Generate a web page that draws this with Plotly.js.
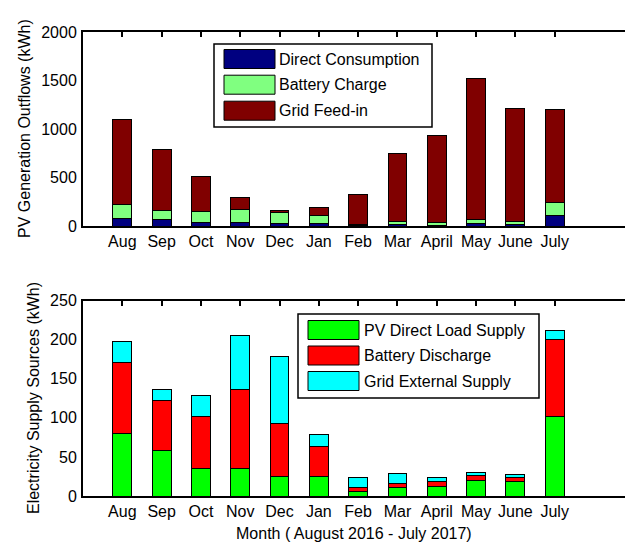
<!DOCTYPE html>
<html><head><meta charset="utf-8">
<script src="https://cdn.plot.ly/plotly-3.0.1.min.js"></script>
<style>html,body{margin:0;padding:0;background:#fff;overflow:hidden}#chart{width:625px;height:545px}</style>
</head><body><div id="chart"></div>
<script>
// ---- data ----
const months = ['Aug','Sep','Oct','Nov','Dec','Jan','Feb','Mar','April','May','June','July'];
const topNames = ['Direct Consumption','Battery Charge','Grid Feed-in'];
const directConsumption = [79, 65, 38, 38, 24, 24, 8, 12, 10, 24, 15, 113];
const batteryCharge     = [141, 93, 109, 137, 113, 82, 7, 36, 28, 41, 33, 134];
const gridFeedIn        = [880, 632, 368, 114, 28, 87, 305, 702, 892, 1455, 1168, 956];
const bottomNames = ['PV Direct Load Supply','Battery Discharge','Grid External Supply'];
const pvDirectLoad      = [80, 58, 35, 35, 25, 25, 6, 11, 12.4, 19.6, 18, 101.5];
const batteryDischarge  = [91, 64.5, 67, 101.6, 68, 38.6, 5, 5.6, 5.6, 6.8, 5.5, 99];
const gridExternal      = [26.5, 14, 27, 69.4, 85, 15.4, 12.5, 12.4, 5.5, 3.9, 3.4, 12];
const topTicks = [0, 500, 1000, 1500, 2000];
const bottomTicks = [0, 50, 100, 150, 200, 250];

// ---- styling ----
const W = 625, H = 545, L = 83;
const FONT = {family: '"Liberation Sans", Arial, sans-serif', size: 16, color: '#000'};
const topColors = ['#000080', '#80FF80', '#800000'];
const bottomColors = ['#00FF00', '#FF0000', '#00FFFF'];
const px = x => (x - L) / (W - L);
const py = y => 1 - y / H;

function bars(vals, names, colors, xa, ya) {
  return vals.map((v, i) => ({
    type: 'bar', x: months, y: v, name: names[i], xaxis: xa, yaxis: ya,
    width: 0.48, marker: {color: colors[i], line: {color: '#000', width: 1}},
    showlegend: false, hoverinfo: 'skip'
  }));
}
const traces = [
  ...bars([directConsumption, batteryCharge, gridFeedIn], topNames, topColors, 'x', 'y'),
  ...bars([pvDirectLoad, batteryDischarge, gridExternal], bottomNames, bottomColors, 'x2', 'y2')
];

const xBase = {
  type: 'category', range: [-1, 12.79], showline: true, linecolor: '#000', linewidth: 2,
  mirror: 'ticks', ticks: 'inside', ticklen: 5, tickwidth: 2, tickcolor: '#000',
  showgrid: false, zeroline: false, layer: 'below traces', tickfont: FONT,
  ticklabelstandoff: 0
};
const yBase = {
  showline: true, linecolor: '#000', linewidth: 2, ticks: '', showgrid: false,
  zeroline: false, tickfont: FONT, ticklabelstandoff: 1, layer: 'below traces'
};

const shapes = [], annotations = [];
function legend(names, colors, box, swX, rows, textX) {
  shapes.push({type: 'rect', xref: 'paper', yref: 'paper', x0: px(box[0]), x1: px(box[1]),
    y0: py(box[3]), y1: py(box[2]), line: {color: '#000', width: 1.5}, fillcolor: '#fff', layer: 'above'});
  names.forEach((n, i) => {
    shapes.push({type: 'rect', xref: 'paper', yref: 'paper', x0: px(swX[0]), x1: px(swX[1]),
      y0: py(rows[i] + 9.5), y1: py(rows[i] - 9.5), line: {color: '#000', width: 1},
      fillcolor: colors[i], layer: 'above'});
    annotations.push({xref: 'paper', yref: 'paper', x: px(textX), y: py(rows[i]), text: n,
      showarrow: false, xanchor: 'left', yanchor: 'middle', font: FONT});
  });
}
legend(topNames, topColors, [214, 432, 44, 127], [224, 275], [59, 84.7, 110.7], 277);
legend(bottomNames, bottomColors, [298, 539, 314, 398], [308, 359], [330, 355.5, 381], 362);

annotations.push({xref: 'paper', yref: 'paper', x: px(25), y: py(129), text: 'PV Generation Outflows (kWh)',
  textangle: -90, showarrow: false, xanchor: 'center', yanchor: 'middle', font: FONT});
annotations.push({xref: 'paper', yref: 'paper', x: px(33), y: py(398), text: 'Electricity Supply Sources (kWh)',
  textangle: -90, showarrow: false, xanchor: 'center', yanchor: 'middle', font: FONT});
annotations.push({xref: 'paper', yref: 'paper', x: px(354), y: py(533), text: 'Month ( August 2016 - July 2017)',
  showarrow: false, xanchor: 'center', yanchor: 'middle', font: FONT});

const layout = {
  width: W, height: H, margin: {l: L, r: 0, t: 0, b: 0},
  paper_bgcolor: '#fff', plot_bgcolor: '#fff', barmode: 'stack', bargap: 0,
  showlegend: false, font: FONT,
  xaxis: Object.assign({}, xBase, {anchor: 'y'}),
  yaxis: Object.assign({}, yBase, {domain: [py(226), py(32)], range: [0, 2000], tickvals: topTicks, anchor: 'x'}),
  xaxis2: Object.assign({}, xBase, {anchor: 'y2'}),
  yaxis2: Object.assign({}, yBase, {domain: [py(496), py(300.7)], range: [0, 250], tickvals: bottomTicks, anchor: 'x2'}),
  shapes: shapes, annotations: annotations
};
Plotly.newPlot('chart', traces, layout, {staticPlot: true, displayModeBar: false});
</script></body></html>
